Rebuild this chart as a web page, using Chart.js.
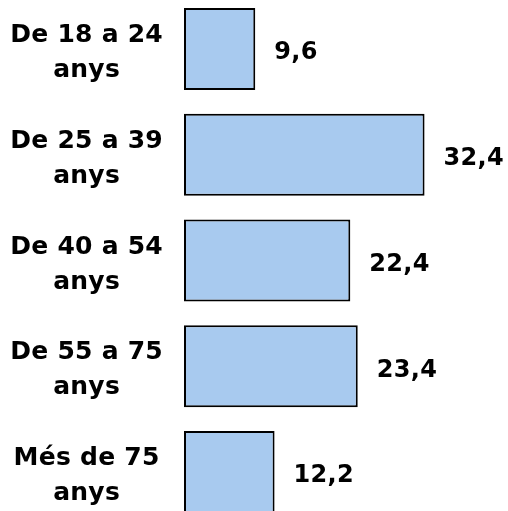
<!DOCTYPE html>
<html>
<head>
<meta charset="utf-8">
<script src="https://cdn.jsdelivr.net/npm/chart.js@4/dist/chart.umd.min.js"></script>
<style>
  html, body { margin: 0; padding: 0; background: #ffffff; overflow: hidden; width: 508px; height: 511px; }
  #wrap { position: absolute; left: 0; top: -4px; width: 508px; height: 529px; }
</style>
</head>
<body>
<div id="wrap"><canvas id="c" width="508" height="529"></canvas></div>
<script>
const categories = [
  ['De 18 a 24', 'anys'],
  ['De 25 a 39', 'anys'],
  ['De 40 a 54', 'anys'],
  ['De 55 a 75', 'anys'],
  ['Més de 75', 'anys']
];
const values = [9.6, 32.4, 22.4, 23.4, 12.2];
const valueLabels = ['9,6', '32,4', '22,4', '23,4', '12,2'];

const FONT = '"DejaVu Sans", Verdana, sans-serif';
const SPACING = '0.25px';

const spacingPlugin = {
  id: 'letterSpacing',
  beforeUpdate(chart) { chart.ctx.letterSpacing = SPACING; },
  beforeLayout(chart) { chart.ctx.letterSpacing = SPACING; },
  beforeDraw(chart) { chart.ctx.letterSpacing = SPACING; }
};

const valueLabelPlugin = {
  id: 'valueLabels',
  afterDatasetsDraw(chart) {
    const ctx = chart.ctx;
    const meta = chart.getDatasetMeta(0);
    ctx.save();
    ctx.letterSpacing = '0.3px';
    ctx.font = 'bold 24px ' + FONT;
    ctx.fillStyle = '#000000';
    ctx.textAlign = 'left';
    ctx.textBaseline = 'middle';
    meta.data.forEach((bar, i) => {
      ctx.fillText(valueLabels[i], bar.x + 19, bar.y + 4);
    });
    ctx.restore();
  }
};

new Chart(document.getElementById('c'), {
  type: 'bar',
  data: {
    labels: categories,
    datasets: [{
      data: values,
      backgroundColor: '#a8caef',
      borderColor: '#000000',
      borderWidth: 2,
      borderSkipped: false,
      barPercentage: 0.775,
      categoryPercentage: 1.0
    }]
  },
  options: {
    indexAxis: 'y',
    responsive: false,
    animation: false,
    devicePixelRatio: 1,
    layout: { padding: { left: 0, right: 27, top: 0, bottom: 0 } },
    plugins: {
      legend: { display: false },
      tooltip: { enabled: false }
    },
    scales: {
      x: {
        display: false,
        min: 0,
        max: 40
      },
      y: {
        grid: { display: false, drawTicks: false },
        border: { display: false },
        ticks: {
          crossAlign: 'center',
          padding: 21,
          labelOffset: 4,
          color: '#000000',
          font: { family: FONT, size: 25, weight: 'bold', lineHeight: 1.4 }
        },
        afterFit(scale) {
          scale.width = 184;
          scale.paddingTop = 0;
          scale.paddingBottom = 0;
        }
      }
    }
  },
  plugins: [spacingPlugin, valueLabelPlugin]
});
</script>
</body>
</html>
